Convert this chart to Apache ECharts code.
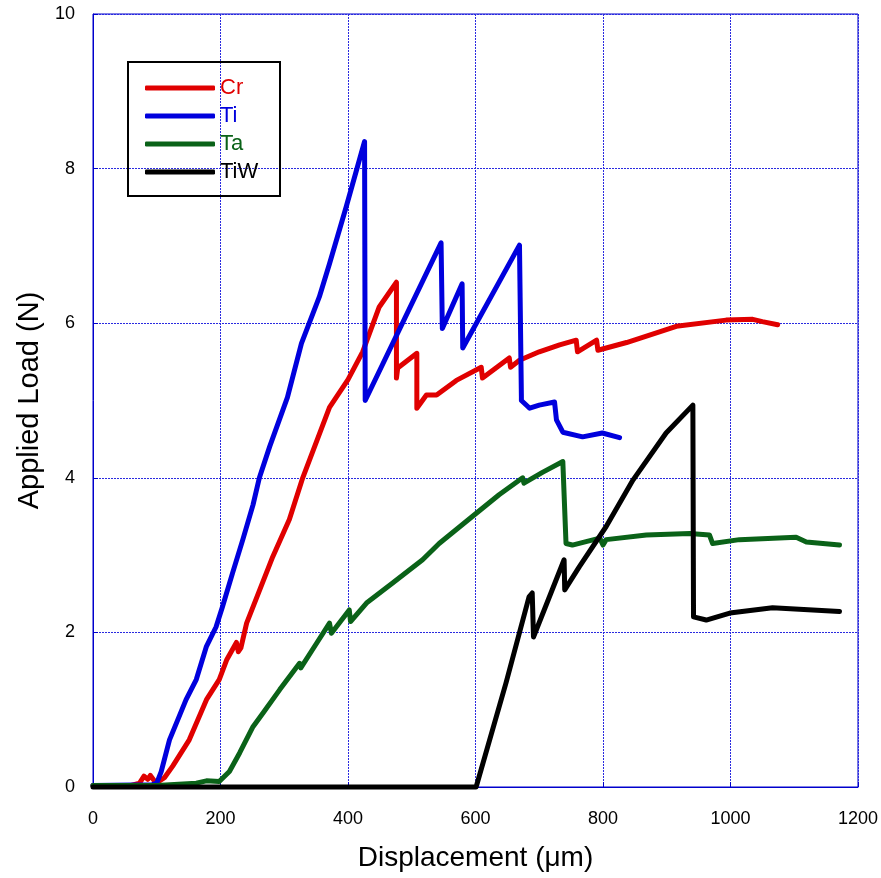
<!DOCTYPE html>
<html>
<head>
<meta charset="utf-8">
<script src="https://cdn.jsdelivr.net/npm/echarts@6/dist/echarts.min.js"></script>
<style>
  html, body { margin: 0; padding: 0; background: #fff; }
  #chart { width: 881px; height: 878px; }
</style>
</head>
<body>
<div id="chart"></div>
<script>
// Load–displacement curves, [displacement µm, load N]
const cr = [[0,0.02],[60,0.02],[73,0.05],[80,0.14],[86,0.1],[90,0.15],[99,0.05],[112,0.12],[125,0.27],[151,0.61],[178,1.13],[198,1.39],[210,1.65],[225,1.87],[228,1.75],[232,1.8],[241,2.12],[272,2.77],[282,2.98],[308,3.46],[329,4.0],[371,4.91],[400,5.27],[423,5.63],[449,6.21],[476,6.53],[476,5.29],[478,5.42],[508,5.61],[508,4.9],[523,5.07],[539,5.07],[570,5.26],[609,5.43],[611,5.29],[653,5.55],[655,5.43],[669,5.52],[700,5.63],[732,5.72],[758,5.78],[760,5.63],[790,5.78],[792,5.65],[837,5.75],[915,5.96],[993,6.04],[1035,6.05],[1050,6.02],[1074,5.98]];
const ti = [[0,0.02],[93,0.03],[100,0.05],[107,0.2],[120,0.61],[131,0.83],[146,1.13],[162,1.39],[178,1.82],[193,2.07],[203,2.33],[219,2.77],[235,3.2],[251,3.65],[261,4.0],[277,4.4],[305,5.04],[327,5.74],[355,6.34],[371,6.77],[397,7.5],[426,8.35],[427,5.0],[546,7.04],[548,5.93],[579,6.51],[580,5.68],[669,7.01],[672,5.05],[672,5.0],[685,4.9],[700,4.94],[724,4.98],[727,4.75],[737,4.59],[768,4.53],[799,4.58],[826,4.52]];
const ta = [[0,0.02],[100,0.02],[162,0.05],[178,0.08],[198,0.07],[214,0.2],[230,0.44],[251,0.78],[267,0.96],[293,1.26],[324,1.6],[326,1.54],[350,1.85],[371,2.12],[374,1.99],[402,2.29],[404,2.14],[429,2.38],[470,2.64],[517,2.94],[543,3.15],[595,3.5],[637,3.78],[674,4.0],[676,3.93],[705,4.07],[737,4.21],[742,3.15],[752,3.13],[795,3.22],[800,3.13],[805,3.2],[868,3.26],[936,3.28],[967,3.26],[972,3.15],[1014,3.2],[1103,3.23],[1119,3.17],[1171,3.13]];
const tiw = [[0,0],[601,0],[648,1.35],[684,2.46],[689,2.51],[691,1.94],[739,2.94],[740,2.55],[763,2.85],[805,3.37],[847,3.97],[899,4.58],[941,4.94],[942,2.2],[962,2.16],[999,2.25],[1066,2.32],[1171,2.27]];

const seriesNames = ['Cr', 'Ti', 'Ta', 'TiW'];
const seriesData = [cr, ti, ta, tiw];
const seriesColors = ['#e00000', '#0000dd', '#0a6218', '#000000'];

const xTicks = [0, 200, 400, 600, 800, 1000, 1200];
const yTicks = [0, 2, 4, 6, 8, 10];

const FONT = '"Liberation Sans", Arial, sans-serif';
const AXIS_BLUE = '#0000cc';
const GRID_BLUE = '#2a2ae0';

const chart = echarts.init(document.getElementById('chart'), null, { renderer: 'canvas' });

chart.setOption({
  animation: false,
  backgroundColor: '#fff',
  grid: {
    left: 93, right: 23, top: 14, bottom: 91,
    show: true, borderColor: AXIS_BLUE, borderWidth: 1, backgroundColor: 'transparent'
  },
  xAxis: {
    type: 'value',
    min: xTicks[0], max: xTicks[xTicks.length - 1], interval: 200,
    name: 'Displacement (\u03bcm)',
    nameLocation: 'middle', nameGap: 57,
    nameTextStyle: { fontFamily: FONT, fontSize: 28, color: '#000' },
    axisLine: { show: true, lineStyle: { color: AXIS_BLUE, width: 1 } },
    axisTick: { show: true, inside: true, length: 5, lineStyle: { color: AXIS_BLUE } },
    axisLabel: { fontFamily: FONT, fontSize: 18, color: '#000', margin: 23, formatter: v => String(v) },
    splitLine: { show: true, lineStyle: { color: GRID_BLUE, width: 1, type: [2, 1] } }
  },
  yAxis: {
    type: 'value',
    min: yTicks[0], max: yTicks[yTicks.length - 1], interval: 2,
    name: 'Applied Load (N)',
    nameLocation: 'middle', nameGap: 48,
    nameTextStyle: { fontFamily: FONT, fontSize: 29, color: '#000' },
    axisLine: { show: true, lineStyle: { color: AXIS_BLUE, width: 1 } },
    axisTick: { show: true, inside: true, length: 5, lineStyle: { color: AXIS_BLUE } },
    axisLabel: { fontFamily: FONT, fontSize: 18, color: '#000', margin: 18, formatter: v => String(v) },
    splitLine: { show: true, lineStyle: { color: GRID_BLUE, width: 1, type: [2, 1] } }
  },
  legend: {
    orient: 'vertical',
    left: 140, top: 72, padding: 5,
    itemWidth: 70, itemHeight: 5, itemGap: 6,
    icon: 'roundRect',
    textStyle: { fontFamily: FONT, fontSize: 22, lineHeight: 22 },
    data: seriesNames.map((n, i) => ({ name: n, textStyle: { color: seriesColors[i] } }))
  },
  graphic: [{
    type: 'rect',
    shape: { x: 128, y: 62, width: 152, height: 134 },
    style: { fill: 'none', stroke: '#000', lineWidth: 2 },
    z: 10
  }],
  series: seriesNames.map((n, i) => ({
    name: n,
    type: 'line',
    data: seriesData[i],
    showSymbol: false,
    symbol: 'none',
    clip: false,
    lineStyle: { color: seriesColors[i], width: 5, cap: 'round', join: 'round' },
    itemStyle: { color: seriesColors[i] },
    z: 2 + i
  }))
});
</script>
</body>
</html>
